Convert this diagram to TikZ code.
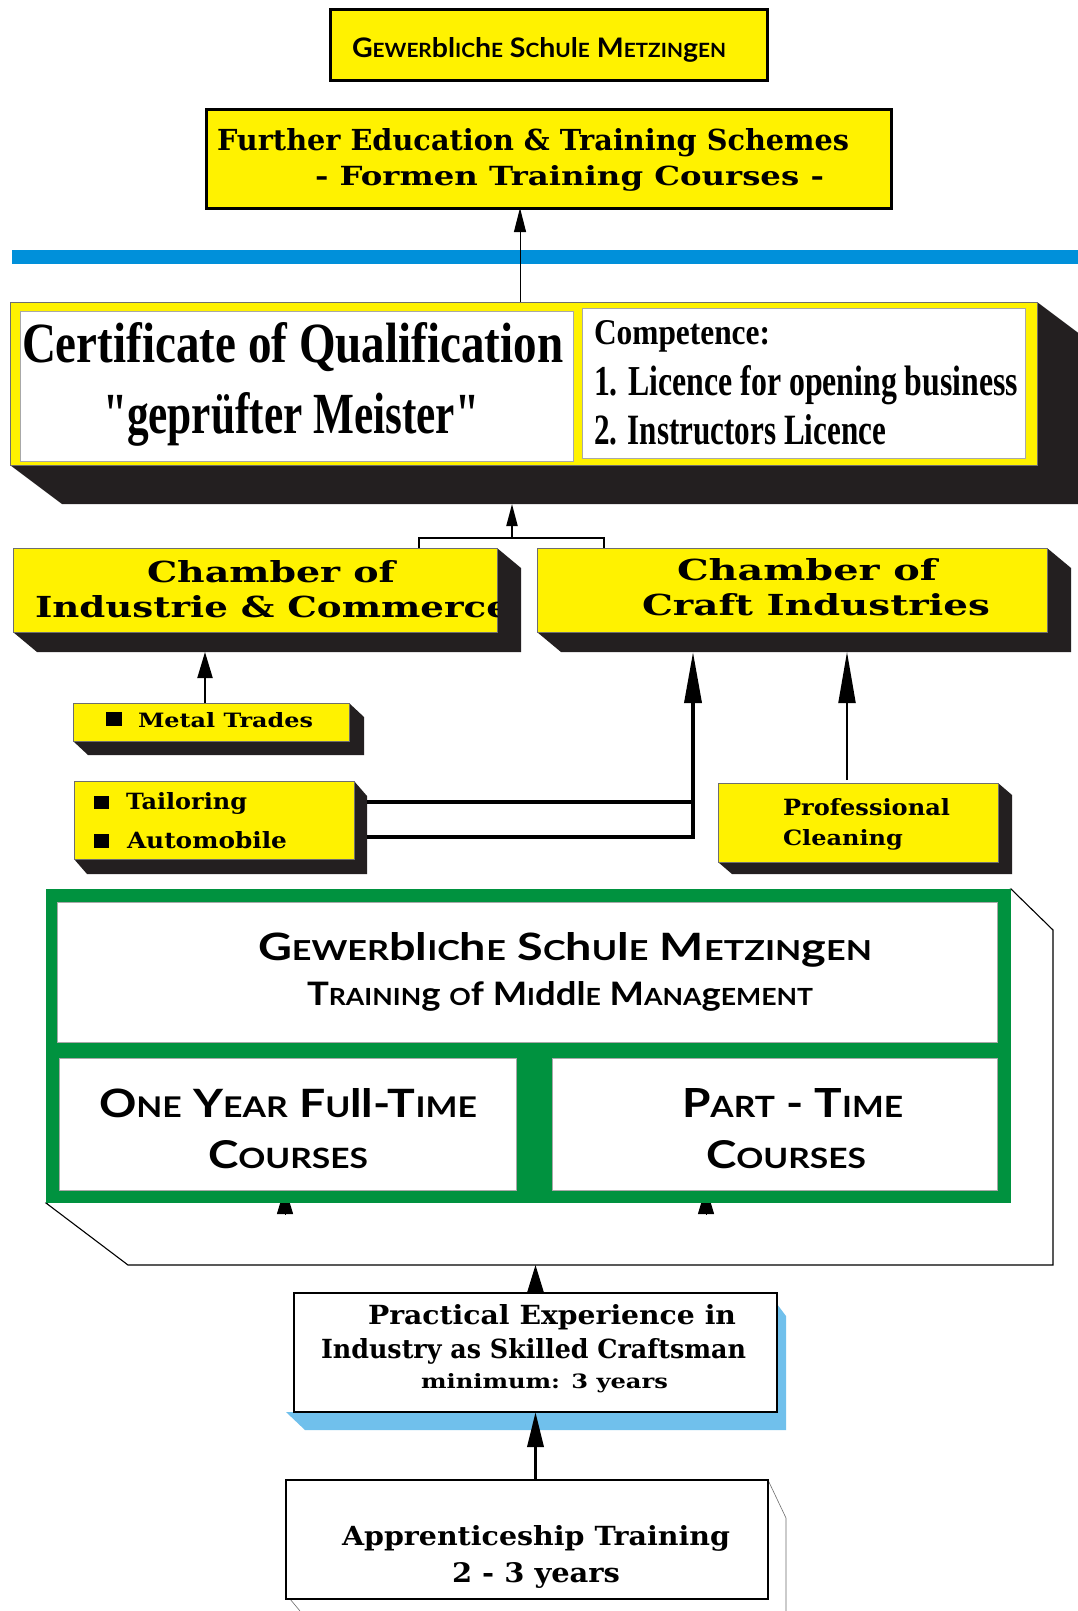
\documentclass[tikz,border=0pt]{standalone}
\usepackage{fontspec}
\usepackage{graphicx}
\setmainfont{DejaVu Serif}
\newfontfamily\condfont{Liberation Serif}
\newfontfamily\capfont{Lato}
\usetikzlibrary{arrows.meta,calc,fit,backgrounds}

\definecolor{chamberyellow}{RGB}{255,242,0}
\definecolor{barblue}{RGB}{0,144,218}
\definecolor{schoolgreen}{RGB}{0,146,63}
\definecolor{shadowink}{RGB}{35,31,32}
\definecolor{skyshadow}{RGB}{112,192,236}
\definecolor{edge}{RGB}{110,110,110}

% scale a line of text to an exact ink width and height (in pt)
\newcommand\fitto[3]{\resizebox{#1pt}{#2pt}{#3}}
% reduced capitals for the titling face
\newcommand\lc[1]{{\fontsize{7.3}{8}\selectfont #1}}
% solid extrusion below and to the right of a box
\newcommand\extrude[3]{\fill[shadowink] (#1.north east) -- ++(#2,#3) -- ($(#1.south east)+(#2,#3)$) -- ($(#1.south west)+(#2,#3)$) -- (#1.south west) -- cycle;}

\begin{document}
\begin{tikzpicture}[x=1pt,y=-1pt,
  box/.style={rectangle, inner sep=0pt, outer sep=0pt},
  hbox/.style={box, fill=chamberyellow, draw=black, line width=3pt},
  ybox/.style={box, fill=chamberyellow, draw=edge, line width=0.7pt},
  wbox/.style={box, fill=white, draw=edge!60, line width=0.5pt},
  kbox/.style={box, fill=white, draw=black, line width=2pt},
  lbl/.style={anchor=base west, inner sep=0pt, outer sep=0pt, text=black},
  serif/.style={lbl, font=\bfseries},
  cond/.style={lbl, font=\condfont\bfseries},
  caps/.style={lbl, font=\capfont\bfseries\fontsize{10}{12}\selectfont},
  thin link/.style={draw=black, line width=1pt},
  mid link/.style={draw=black, line width=2pt},
  heavy link/.style={draw=black, line width=3.5pt},
  short tip/.style={-{Triangle[length=24pt,width=12pt]}},
  long tip/.style={-{Triangle[length=51pt,width=17pt]}},
  small tip/.style={-{Triangle[length=26pt,width=15pt]}},
  base tip/.style={-{Triangle[length=35pt,width=16pt]}},
  stub tip/.style={-{Triangle[length=27pt,width=16pt]}},
]
\useasboundingbox (0,0) rectangle (1078,1611);

% ---------- title boxes ----------
\node[hbox, fit={(330,10) (767,80)}] (school) {};
\node[caps] (schoolT) at (352,57) {\fitto{374}{20}{G\lc{EWER}bl\lc{IC}h\lc{E} S\lc{C}h\lc{U}l\lc{E} M\lc{ETZIN}g\lc{EN}}};

\node[hbox, fit={(206,109) (891,208)}] (further) {};
\node[serif] (furtherA) at (217,150) {\fitto{632}{22}{Further Education \& Training Schemes}};
\node[serif] (furtherB) at (315,185) {\fitto{509}{20}{- Formen Training Courses -}};

\node[box, fill=barblue, fit={(12,250) (1078,264)}] (bar) {};

% ---------- certificate ----------
\node[box, fill=chamberyellow, draw=edge, line width=0.6pt, fit={(10,302) (1037,465)}] (cert) {};
\node[wbox, fit={(20,311) (573,461)}] (certL) {};
\node[wbox, fit={(582,308) (1025,458)}] (certR) {};
\node[cond] (certA) at (22,362) {\fitto{541}{40}{Certificate of Qualification}};
\node[cond] (certB) at (103,433) {\fitto{376}{41}{"geprüfter Meister"}};
\node[cond] (compA) at (594,344) {\fitto{176}{24}{Competence:}};
\node[cond] (compB) at (594,395) {\fitto{424}{30}{1. Licence for opening business}};
\node[cond] (compC) at (594,444) {\fitto{292}{30}{2. Instructors Licence}};

% ---------- chambers ----------
\node[ybox, fit={(13,548) (497,632)}] (icc) {};
\node[ybox, fit={(537,548) (1047,632)}] (cci) {};
\node[serif] (iccA) at (147,582) {\fitto{248}{22}{Chamber of}};
\begin{scope}
  \clip (icc.north west) rectangle (icc.south east);
  \node[serif] (iccB) at (35,617) {\fitto{475}{22}{Industrie \& Commerce}};
\end{scope}
\node[serif] (cciA) at (677,580) {\fitto{260}{22}{Chamber of}};
\node[serif] (cciB) at (642,615) {\fitto{348}{22}{Craft Industries}};

% ---------- trades ----------
\node[ybox, fit={(73,703) (349,741)}] (metal) {};
\fill[black] (106,712) rectangle (122,726);
\node[serif] (metalT) at (138,727) {\fitto{175}{15}{Metal Trades}};

\node[ybox, fit={(74,781) (354,859)}] (tail) {};
\fill[black] (94,796) rectangle (109,809);
\fill[black] (94,834) rectangle (109,848);
\node[serif] (tailA) at (126,809) {\fitto{121}{17}{Tailoring}};
\node[serif] (tailB) at (127,848) {\fitto{160}{17}{Automobile}};

\node[ybox, fit={(718,783) (998,862)}] (prof) {};
\node[serif] (profA) at (783,815) {\fitto{167}{17}{Professional}};
\node[serif] (profB) at (783,845) {\fitto{120}{16}{Cleaning}};

% ---------- school block ----------
\node[box, fill=schoolgreen, fit={(46,889) (1011,1203)}] (green) {};
\node[wbox, fit={(57,902) (997,1042)}] (gtop) {};
\node[wbox, fit={(59,1058) (516,1190)}] (gleft) {};
\node[wbox, fit={(552,1058) (997,1190)}] (gright) {};
\node[caps] (gtopA) at (258,960) {\fitto{614}{28}{G\lc{EWER}bl\lc{IC}h\lc{E} S\lc{C}h\lc{U}l\lc{E} M\lc{ETZIN}g\lc{EN}}};
\node[caps] (gtopB) at (307,1005) {\fitto{506}{24}{T\lc{RAININ}g \lc{O}f M\lc{I}ddl\lc{E} M\lc{ANA}g\lc{EMENT}}};
\node[caps] (gleftA) at (99,1117) {\fitto{378}{29}{O\lc{NE} Y\lc{EAR} F\lc{U}ll-T\lc{IME}}};
\node[caps] (gleftB) at (208,1168) {\fitto{160}{28}{C\lc{OURSES}}};
\node[caps] (grightA) at (682,1117) {\fitto{221}{29}{P\lc{ART} - T\lc{IME}}};
\node[caps] (grightB) at (706,1168) {\fitto{160}{28}{C\lc{OURSES}}};

% ---------- entry path ----------
\node[kbox, fit={(294,1293) (777,1412)}] (prac) {};
\node[serif] (pracA) at (368,1324) {\fitto{368}{20}{Practical Experience in}};
\node[serif] (pracB) at (321,1358) {\fitto{425}{20}{Industry as Skilled Craftsman}};
\node[serif] (pracC) at (421,1388) {\fitto{247}{15}{minimum: 3 years}};

\node[kbox, fit={(286,1480) (768,1599)}] (appr) {};
\node[serif] (apprA) at (342,1545) {\fitto{388}{20}{Apprenticeship Training}};
\node[serif] (apprB) at (452,1582) {\fitto{168}{20}{2 - 3 years}};

% ---------- connection points ----------
\coordinate (certTop) at (520,302);
\coordinate (certFoot) at (512,504);
\coordinate (brL) at (419,548);
\coordinate (brR) at (604,548);
\coordinate (brM) at (512,538);
\coordinate (iccFoot) at (205,652);
\coordinate (cciFootA) at (693,652);
\coordinate (cciFootB) at (847,652);
\coordinate (tailOutA) at (367,802);
\coordinate (tailOutB) at (367,837);
\coordinate (profTop) at (847,780);
\coordinate (metalTop) at (205,703);
\coordinate (greenFoot) at (536,1265);
\coordinate (fullIn) at (285,1187);
\coordinate (partIn) at (706,1187);
\coordinate (fullFrom) at (285,1214);
\coordinate (partFrom) at (706,1214);

% ---------- shadows and extrusions ----------
\begin{scope}[on background layer]
  \fill[white] (0,0) rectangle (1078,1611);
  \extrude{cert}{52}{39}
  \extrude{icc}{24}{20}
  \extrude{cci}{24}{20}
  \extrude{metal}{15}{14}
  \extrude{tail}{13}{15}
  \extrude{prof}{14}{12}
  \filldraw[fill=white, draw=black, line width=1.1pt]
    (green.south west) -- (128,1265) -- (1053,1265) -- (1053,930) -- (green.north east) -- cycle;
  \draw[thin link, stub tip] (fullFrom) -- (fullIn);
  \draw[thin link, stub tip] (partFrom) -- (partIn);
  \fill[skyshadow] (286,1412) -- (305,1430) -- (786,1430) -- (786,1316) -- (777,1304) -- (777,1412) -- cycle;
  \draw[edge, line width=0.6pt] (appr.north east) -- (786,1518) -- (786,1611);
  \draw[edge, line width=0.6pt] (appr.south west) ++(4,0) -- (300,1611);
\end{scope}

% ---------- connectors ----------
\draw[thin link, short tip] (certTop) -- (certTop |- further.south);
\draw[mid link] (brL) -- (brL |- brM) -| (brR);
\draw[mid link, -{Triangle[length=22pt,width=11pt]}] (brM) -- (certFoot);
\draw[mid link, small tip] (metalTop) -- (iccFoot);
\draw[heavy link] (tailOutA) -- (tailOutA -| cciFootA);
\draw[heavy link, long tip] (tailOutB) -| (cciFootA);
\draw[mid link, long tip] (profTop) -- (cciFootB);
\draw[mid link, stub tip] (prac.north) -- (prac.north |- greenFoot);
\draw[heavy link, base tip] (appr.north -| prac.south) -- (prac.south);
\end{tikzpicture}
\end{document}
